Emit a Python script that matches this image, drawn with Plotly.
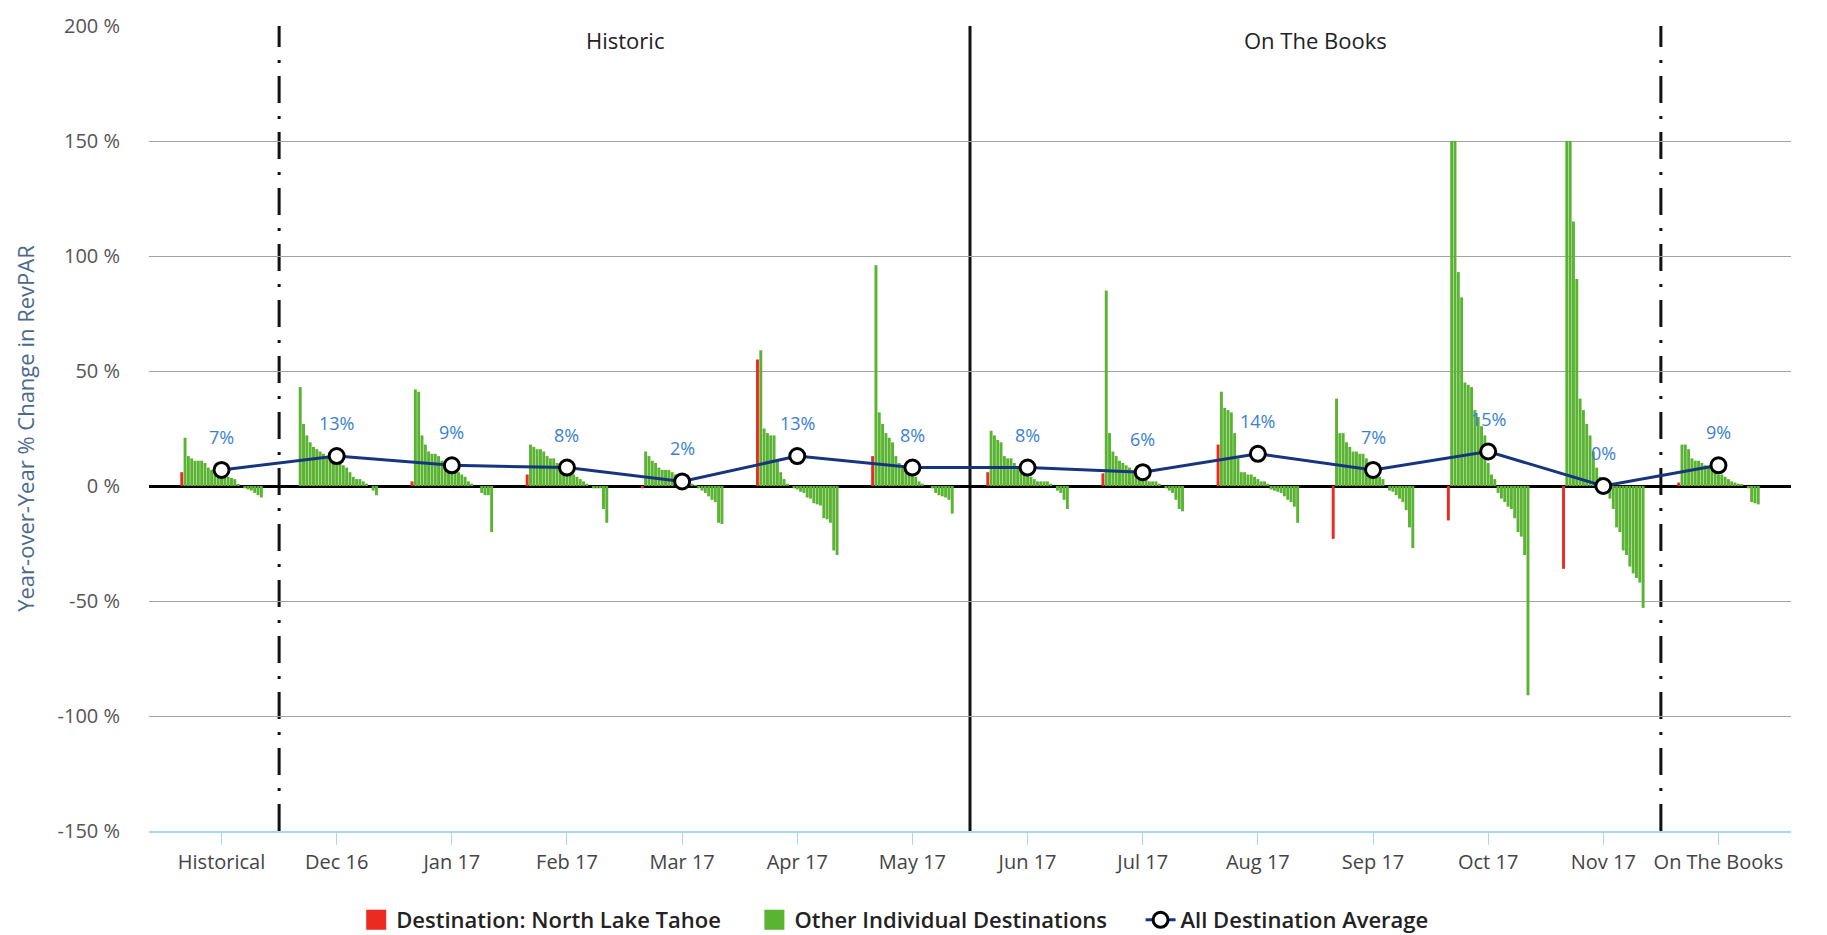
import plotly.graph_objects as go

categories = ["Historical", "Dec 16", "Jan 17", "Feb 17", "Mar 17", "Apr 17", "May 17",
              "Jun 17", "Jul 17", "Aug 17", "Sep 17", "Oct 17", "Nov 17", "On The Books"]

# Destination: North Lake Tahoe (% YoY change in RevPAR)
tahoe = [6, 0, 2, 5, -1, 55, 13, 6, 5.5, 18, -23, -15, -36, 1.5]

# Other individual destinations, sorted high to low within each period
hist_others = [21, 13, 12, 11, 11, 11, 10, 8, 7, 6, 5, 5, 4.5, 4, 3.5, 3, 0.5, 0, -1, -1.5, -2, -3, -4, -5]
dec16_others = [43, 27, 22, 19, 17, 16, 15, 14, 13, 12, 11, 10, 10, 9, 8, 6, 4, 3, 3, 2, 1, 0, -2, -4]
jan17_others = [42, 41, 22, 18, 15, 14, 14, 13, 11, 10, 9, 8, 7, 6, 5, 4, 2, 1, 0, 0, -3, -4, -4, -20]
feb17_others = [18, 17, 16, 16, 15, 13, 12, 12, 10, 9, 8, 7, 6, 5, 4, 3, 2, 1, 0, -1, -1, -1, -10, -16]
mar17_others = [15, 13, 11, 10, 8, 7, 7, 7, 6, 5, 4, 3, 2, 1.5, 1, 0.3, -1, -2, -3, -4.5, -6, -7, -16, -16.5]
apr17_others = [59, 25, 23, 22, 22, 11, 6, 3, 1, 0, -1, -1.5, -2.5, -3, -5, -5.5, -7.5, -8, -8.5, -14, -14.5, -16, -28, -30]
may17_others = [96, 32, 27, 23, 21, 19, 13, 10, 9, 8, 7, 6, 4, 2, 1, 0, 0, -1, -3, -4, -4.5, -5, -6, -12]
jun17_others = [24, 22, 20, 19, 13, 12, 12, 10, 8, 7, 6, 5, 4, 3, 2, 2, 2, 2, 1, 0, -2, -3, -6, -10]
jul17_others = [85, 23, 15, 13, 11, 10, 9, 8, 7, 6, 5, 4, 4, 2, 2, 2, 1, 0, -1, -2, -3, -6, -10, -11]
aug17_others = [41, 34, 33, 32, 23, 12, 6, 6, 5, 5, 4, 3, 2, 2, 1, -1.5, -2, -2.5, -3, -4.5, -6, -7, -9, -16]
sep17_others = [38, 23, 23, 19, 17, 15, 15, 14, 14, 12, 10, 8, 6, 4, 3, 0, -2, -2.5, -4, -5.5, -7, -10.5, -18, -27]
oct17_others = [150, 150, 93, 82, 45, 44, 43, 33, 30, 26, 22, 10, 5, 3, -3, -5.5, -7, -9, -10, -14, -20, -22, -30, -91]
nov17_others = [150, 150, 115, 90, 38, 33, 27, 22, 15, 8, 4, 1, -2, -5.5, -10, -18, -20, -28, -30, -35, -38, -40, -42, -53]
otb_others = [18, 18, 16, 12, 11, 11, 10, 9, 8, 7, 6, 5, 5, 4, 3, 2, 1.5, 1, 0.5, 0, -1, -7, -7.5, -8]

# All destination average
avg = [7, 13, 9, 8, 2, 13, 8, 8, 6, 14, 7, 15, 0, 9]

y_ticks = [-150, -100, -50, 0, 50, 100, 150, 200]
y_tick_labels = ["-150 %", "-100 %", "-50 %", "0 %", "50 %", "100 %", "150 %", "200 %"]

others_by_cat = [hist_others, dec16_others, jan17_others, feb17_others, mar17_others,
                 apr17_others, may17_others, jun17_others, jul17_others, aug17_others,
                 sep17_others, oct17_others, nov17_others, otb_others]

RED = "#ec2a22"
GREEN = "#5ab332"
NAVY = "#17357f"
LABEL_BLUE = "#3b7fd3"
FONT = "Open Sans"
PAD = "\u00a0" * 5  # extra spacing between legend entries

fig = go.Figure()

# legend entries (square swatches)
fig.add_trace(go.Scatter(x=[None], y=[None], mode="markers", name="Destination: North Lake Tahoe" + PAD,
                         marker=dict(symbol="square", size=16, color=RED, line=dict(color=RED, width=4)),
                         legendgroup="tahoe", hoverinfo="skip"))
fig.add_trace(go.Scatter(x=[None], y=[None], mode="markers", name="Other Individual Destinations" + PAD,
                         marker=dict(symbol="square", size=16, color=GREEN, line=dict(color=GREEN, width=4)),
                         legendgroup="others", hoverinfo="skip"))

fig.add_trace(go.Bar(
    x=categories, y=tahoe, name="Destination: North Lake Tahoe",
    marker=dict(color=RED, line=dict(width=0)), legendgroup="tahoe", showlegend=False))

n_others = len(hist_others)
for rank in range(n_others):
    fig.add_trace(go.Bar(
        x=categories, y=[grp[rank] for grp in others_by_cat],
        name="Other Individual Destinations",
        marker=dict(color=GREEN, line=dict(width=0)),
        legendgroup="others", showlegend=False))

fig.add_trace(go.Scatter(
    x=categories, y=avg, mode="lines+markers", name="All Destination Average",
    line=dict(color=NAVY, width=3),
    marker=dict(symbol="circle", size=15, color="white", line=dict(color="black", width=3))))

for c, v in zip(categories, avg):
    fig.add_annotation(x=c, y=v, text=f"{v}%", showarrow=False, yshift=33,
                       font=dict(family=FONT, size=18, color=LABEL_BLUE))

# Period dividers
i_hist_end = categories.index("Dec 16") - 0.5
i_split = categories.index("Jun 17") - 0.5
i_otb = categories.index("On The Books") - 0.5
dash_dot = "27px,13px,3px,13px"
for xv, dash in [(i_hist_end, dash_dot), (i_split, "solid"), (i_otb, dash_dot)]:
    fig.add_shape(type="line", xref="x", yref="y", x0=xv, x1=xv, y0=y_ticks[0], y1=y_ticks[-1],
                  line=dict(color="#111111", width=3, dash=dash), layer="below")

fig.add_annotation(x=(i_hist_end + i_split) / 2, y=y_ticks[-1], yshift=-14, text="Historic",
                   showarrow=False, font=dict(family=FONT, size=22, color="#222222"))
fig.add_annotation(x=(i_split + i_otb) / 2, y=y_ticks[-1], yshift=-14, text="On The Books",
                   showarrow=False, font=dict(family=FONT, size=22, color="#222222"))

fig.update_layout(
    width=1827, height=935,
    margin=dict(l=149, r=36, t=19, b=104),
    paper_bgcolor="white", plot_bgcolor="white",
    barmode="group", bargap=0.28, bargroupgap=0.12,
    font=dict(family=FONT),
    legend=dict(orientation="h", xref="container", yref="container",
                x=0.49, y=0.016, xanchor="center", yanchor="middle",
                font=dict(family=FONT, size=22, color="#222222", weight=600),
                itemsizing="trace", traceorder="normal", itemwidth=30),
    xaxis=dict(type="category", range=[-0.63, 13.63], showgrid=False,
               ticks="outside", ticklen=12, tickcolor="#a9d7ec", tickwidth=1,
               showline=True, linecolor="#a9d7ec", linewidth=2,
               tickfont=dict(family=FONT, size=20, color="#444444")),
    yaxis=dict(range=[y_ticks[0], y_ticks[-1]], tickvals=y_ticks, ticktext=y_tick_labels,
               showgrid=True, gridcolor="#a3a3a3", gridwidth=1,
               zeroline=True, zerolinecolor="black", zerolinewidth=3,
               ticks="outside", ticklen=24, tickcolor="rgba(0,0,0,0)",
               tickfont=dict(family=FONT, size=20, color="#555555"),
               title=dict(text="Year-over-Year % Change in RevPAR", standoff=16,
                          font=dict(family=FONT, size=22, color="#4a6a8c"))),
    showlegend=True,
)

fig.write_html("out.html", config={"displayModeBar": False},
               post_script="document.body.style.margin='0';document.body.style.overflow='hidden';")
